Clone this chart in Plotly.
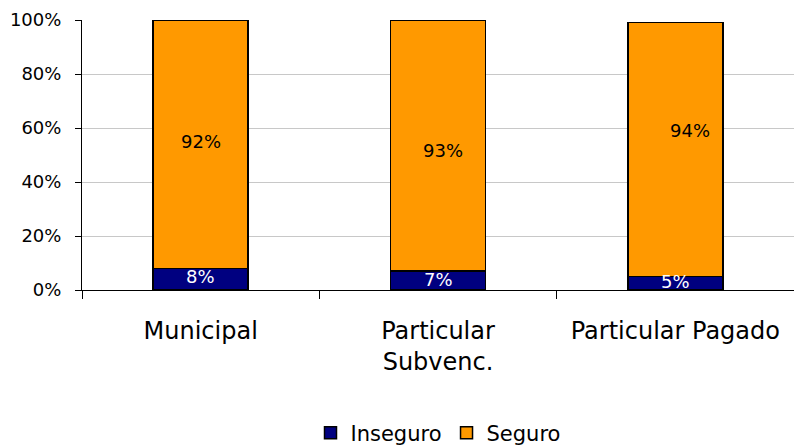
import plotly.graph_objects as go

categories = ["Municipal", "Particular<br>Subvenc.", "Particular Pagado"]
inseguro = [8, 7, 5]
seguro = [92, 93, 94]

# label vertical positions (in % units) as placed in the reference
inseguro_label_y = [5.0, 4.0, 3.3]
seguro_label_y = [55, 51.5, 59]
seguro_label_dx = [0, 0.02, 0.06]

FONT = "Century Gothic, DejaVu Sans, sans-serif"

fig = go.Figure()
fig.add_trace(go.Bar(
    x=categories, y=inseguro, name="Inseguro",
    marker=dict(color="#000080", line=dict(color="#000000", width=1.5)),
    width=0.4,
))
fig.add_trace(go.Bar(
    x=categories, y=seguro, name="Seguro",
    marker=dict(color="#FF9900", line=dict(color="#000000", width=1.5)),
    width=0.4,
))

for i, c in enumerate(categories):
    fig.add_annotation(x=i, y=inseguro_label_y[i], xref="x", yref="y",
                       text=f"{inseguro[i]}%", showarrow=False,
                       font=dict(family=FONT, size=18, color="#ffffff"))
    fig.add_annotation(x=i + seguro_label_dx[i], y=seguro_label_y[i], xref="x", yref="y",
                       text=f"{seguro[i]}%", showarrow=False,
                       font=dict(family=FONT, size=18, color="#000000"))

fig.update_layout(
    barmode="stack",
    width=794, height=446,
    margin=dict(l=82, r=0, t=20, b=156, autoexpand=False),
    plot_bgcolor="#ffffff", paper_bgcolor="#ffffff",
    font=dict(family=FONT, color="#000000"),
    showlegend=True,
    legend=dict(orientation="h", x=0.5, xanchor="center", xref="paper",
                y=-0.53, yanchor="middle", font=dict(family=FONT, size=21),
                traceorder="normal", itemwidth=30),
    xaxis=dict(
        range=[-0.5, 2.5], showline=True, linecolor="#000000", linewidth=1,
        ticks="outside", tickson="boundaries", ticklen=8, tickcolor="#000000",
        tickfont=dict(family=FONT, size=24), showgrid=False,
        automargin=False, ticklabelstandoff=19,
    ),
    yaxis=dict(
        range=[0, 100], tickvals=[0, 20, 40, 60, 80, 100],
        ticktext=["0%", "20%", "40%", "60%", "80%", "100%"],
        showline=True, linecolor="#000000", linewidth=1,
        ticks="outside", ticklen=6, tickcolor="#000000",
        tickfont=dict(family=FONT, size=18),
        showgrid=True, gridcolor="#c8c8c8", gridwidth=1, zeroline=False,
        automargin=False, ticklabelstandoff=10,
    ),
)

fig.write_html("out.html", config={"displayModeBar": False},
               post_script="document.body.style.margin='0';")
